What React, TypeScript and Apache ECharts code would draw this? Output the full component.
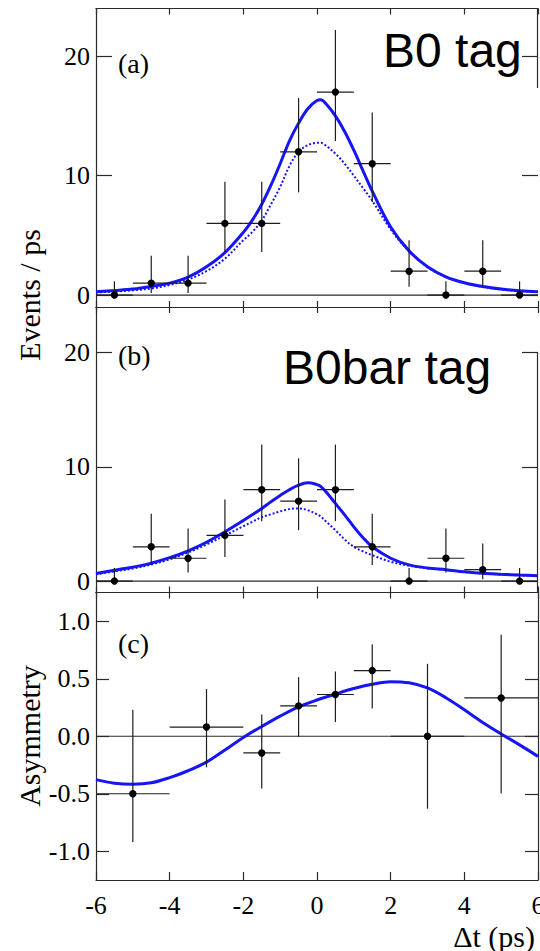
import React, { useEffect, useRef } from "react";
import * as echarts from "echarts";

// ---------- data ----------
const binX = [-5.5, -4.5, -3.5, -2.5, -1.5, -0.5, 0.5, 1.5, 2.5, 3.5, 4.5, 5.5];
const binHalf = [0.5, 0.5, 0.5, 0.5, 0.5, 0.5, 0.5, 0.5, 0.5, 0.5, 0.5, 0.5];

// (a) B0 tag
const aCounts = [0, 1, 1, 6, 6, 12, 17, 11, 2, 0, 2, 0];
const aErrLo = [0, 0.83, 0.83, 2.4, 2.4, 3.4, 4.1, 3.2, 1.3, 0, 1.3, 0];
const aErrHi = [1.15, 2.3, 2.3, 3.5, 3.5, 4.5, 5.2, 4.3, 2.6, 1.15, 2.6, 1.15];

// (b) B0bar tag
const bCounts = [0, 3, 2, 4, 8, 7, 8, 3, 0, 2, 1, 0];
const bErrLo = [0, 1.55, 1.25, 1.9, 2.75, 2.55, 2.75, 1.6, 0, 1.25, 0.83, 0];
const bErrHi = [1.15, 2.9, 2.6, 3.15, 3.95, 3.75, 3.95, 2.9, 1.15, 2.6, 2.3, 1.15];

// (c) asymmetry
const cX = [-5, -3, -1.5, -0.5, 0.5, 1.5, 3, 5];
const cHalf = [1, 1, 0.5, 0.5, 0.5, 0.5, 1, 1];
const cAsym = [-0.5, 0.08, -0.145, 0.264, 0.363, 0.571, 0, 0.333];
const cErrLo = [0.42, 0.35, 0.31, 0.27, 0.24, 0.33, 0.63, 0.83];
const cErrHi = [0.73, 0.33, 0.335, 0.25, 0.2, 0.23, 0.63, 0.55];

// fitted curves
const fitXab = [-6, -5.5, -5, -4.5, -4, -3.5, -3, -2.5, -2, -1.75, -1.5, -1.25, -1, -0.75, -0.5, -0.25, 0, 0.1, 0.25, 0.5, 0.75, 1, 1.25, 1.5, 2, 2.5, 3, 3.5, 4, 4.5, 5, 5.5, 6];
const aFitTotal = [0.28, 0.38, 0.5, 0.72, 1.0, 1.5, 2.37, 3.55, 5.25, 6.3, 7.6, 9.2, 11.0, 12.9, 14.4, 15.6, 16.3, 16.35, 16.0, 15.0, 13.7, 12.13, 10.4, 8.7, 5.7, 3.7, 2.37, 1.53, 1.03, 0.71, 0.5, 0.36, 0.28];
const aFitSignal = [0.22, 0.3, 0.4, 0.55, 0.85, 1.3, 2.0, 3.05, 4.6, 5.3, 6.25, 7.6, 9.06, 10.8, 12.0, 12.55, 12.75, 12.75, 12.5, 11.85, 11.0, 10.0, 8.95, 7.9, 5.5, 3.65, 2.35, 1.5, 1.0, 0.68, 0.47, 0.33, 0.24];
const bFitTotal = [0.67, 0.95, 1.22, 1.57, 2.05, 2.65, 3.4, 4.31, 5.3, 5.82, 6.36, 6.95, 7.5, 8.0, 8.4, 8.6, 8.45, 8.3, 7.8, 6.8, 5.8, 4.75, 3.8, 3.0, 2.0, 1.42, 1.15, 1.0, 0.82, 0.68, 0.6, 0.53, 0.47];
const bFitSignal = [0.6, 0.85, 1.1, 1.45, 1.9, 2.5, 3.2, 4.0, 4.8, 5.2, 5.6, 5.85, 6.1, 6.3, 6.36, 6.2, 5.85, 5.65, 5.2, 4.46, 3.65, 3.0, 2.6, 2.27, 1.69, 1.35, 1.12, 0.98, 0.8, 0.66, 0.57, 0.5, 0.45];
const fitXc = [-6, -5.5, -5, -4.5, -4, -3.5, -3, -2.5, -2, -1.5, -1, -0.5, 0, 0.5, 1, 1.5, 2, 2.5, 3, 3.5, 4, 4.5, 5, 5.5, 6];
const cFit = [-0.377, -0.408, -0.417, -0.405, -0.36, -0.3, -0.225, -0.12, -0.01, 0.085, 0.175, 0.255, 0.315, 0.367, 0.415, 0.452, 0.475, 0.465, 0.42, 0.335, 0.23, 0.12, 0.02, -0.075, -0.175];

const xTicks = [-6, -4, -2, 0, 2, 4, 6];
const countTicks = [0, 10, 20];
const asymTicks = [-1, -0.5, 0, 0.5, 1];

// ---------- styling ----------
const SERIF = "Liberation Serif, Times New Roman, serif";
const SANS = "Liberation Sans, Arial, sans-serif";
const FRAME = "#2a2a2a";
const BLUE = "#1515f5";
const L = 96;
const W = 442;
const grids = [
  { left: L, width: W, top: 8.5, height: 298.5 },
  { left: L, width: W, top: 307, height: 285.5 },
  { left: L, width: W, top: 592.5, height: 287.5 },
];
const yRanges = [
  [-1, 24],
  [-1, 24],
  [-1.25, 1.25],
];

const zip = (xs: number[], ys: number[]) => xs.map((x, i) => [x, ys[i]]);
const pts = (xs: number[], ys: number[], xe: number[], lo: number[], hi: number[]) =>
  xs.map((x, i) => [x, ys[i], xe[i], lo[i], hi[i]]);

function renderErr(params: any, api: any) {
  const x = api.value(0);
  const y = api.value(1);
  const xe = api.value(2);
  const lo = api.value(3);
  const hi = api.value(4);
  const c = api.coord([x, y]);
  const l = api.coord([x - xe, y]);
  const r = api.coord([x + xe, y]);
  const t = api.coord([x, y + hi]);
  const b = api.coord([x, y - lo]);
  const ls = { stroke: "#1e1e1e", lineWidth: 1.2 };
  return {
    type: "group",
    children: [
      { type: "line", shape: { x1: l[0], y1: l[1], x2: r[0], y2: r[1] }, style: ls },
      { type: "line", shape: { x1: t[0], y1: t[1], x2: b[0], y2: b[1] }, style: ls },
      { type: "circle", shape: { cx: c[0], cy: c[1], r: 3.7 }, style: { fill: "#000" } },
    ],
  };
}

function buildOption() {
  const xAxis: any[] = [];
  const yAxis: any[] = [];
  grids.forEach((_, i) => {
    const last = i === 2;
    xAxis.push({
      gridIndex: i,
      type: "value",
      min: -6,
      max: 6,
      interval: 2,
      position: "bottom",
      axisLine: { show: true, onZero: false, lineStyle: { color: FRAME, width: 1.2 } },
      axisTick: { show: true, inside: true, length: last ? 8 : 6, lineStyle: { color: FRAME, width: 1.2 } },
      axisLabel: {
        show: last,
        fontFamily: SERIF,
        fontSize: 26,
        color: "#000",
        margin: 12,
        customValues: xTicks,
        formatter: (v: number) => String(v),
      },
      splitLine: { show: false },
    });
    xAxis.push({
      gridIndex: i,
      type: "value",
      min: -6,
      max: 6,
      interval: 2,
      position: "top",
      axisLine: { show: true, onZero: false, lineStyle: { color: FRAME, width: 1.2 } },
      axisTick: { show: true, inside: true, length: 6, lineStyle: { color: FRAME, width: 1.2 } },
      axisLabel: { show: false },
      splitLine: { show: false },
    });
    const ticks = last ? asymTicks : countTicks;
    const tlen = last ? 13 : 16;
    yAxis.push({
      gridIndex: i,
      type: "value",
      min: yRanges[i][0],
      max: yRanges[i][1],
      position: "left",
      axisLine: { show: true, onZero: false, lineStyle: { color: FRAME, width: 1.2 } },
      axisTick: { show: true, inside: true, length: tlen, customValues: ticks, lineStyle: { color: FRAME, width: 1.2 } },
      axisLabel: {
        show: true,
        customValues: ticks,
        fontFamily: SERIF,
        fontSize: 26,
        color: "#000",
        margin: 6,
        formatter: (v: number) => (last ? v.toFixed(1) : String(v)),
      },
      splitLine: { show: false },
    });
    yAxis.push({
      gridIndex: i,
      type: "value",
      min: yRanges[i][0],
      max: yRanges[i][1],
      position: "right",
      axisLine: { show: last, onZero: false, lineStyle: { color: FRAME, width: 1.2 } },
      axisTick: { show: true, inside: true, length: tlen, customValues: ticks, lineStyle: { color: FRAME, width: 1.2 } },
      axisLabel: { show: false },
      splitLine: { show: false },
    });
  });

  const zeroLine = (i: number) => ({
    type: "line",
    xAxisIndex: 2 * i,
    yAxisIndex: 2 * i,
    data: [
      [-6, 0],
      [6, 0],
    ],
    symbol: "none",
    lineStyle: { color: FRAME, width: 1.2 },
    z: 1,
    silent: true,
  });
  const curve = (i: number, xs: number[], ys: number[], dotted: boolean) => ({
    type: "line",
    xAxisIndex: 2 * i,
    yAxisIndex: 2 * i,
    data: zip(xs, ys),
    smooth: 0.35,
    symbol: "none",
    lineStyle: dotted ? { color: BLUE, width: 2, type: [2, 2] } : { color: BLUE, width: 3 },
    z: dotted ? 2 : 3,
    silent: true,
  });
  const errs = (i: number, data: number[][]) => ({
    type: "custom",
    xAxisIndex: 2 * i,
    yAxisIndex: 2 * i,
    data,
    encode: { x: 0, y: 1 },
    renderItem: renderErr,
    z: 5,
    silent: true,
  });

  const series: any[] = [
    zeroLine(0),
    curve(0, fitXab, aFitSignal, true),
    curve(0, fitXab, aFitTotal, false),
    errs(0, pts(binX, aCounts, binHalf, aErrLo, aErrHi)),
    zeroLine(1),
    curve(1, fitXab, bFitSignal, true),
    curve(1, fitXab, bFitTotal, false),
    errs(1, pts(binX, bCounts, binHalf, bErrLo, bErrHi)),
    zeroLine(2),
    curve(2, fitXc, cFit, false),
    errs(2, pts(cX, cAsym, cHalf, cErrLo, cErrHi)),
  ];

  const txt = (text: string, x: number, y: number, font: string, size: number, align = "left") => ({
    type: "text",
    x,
    y,
    z: 100,
    style: {
      text,
      fontFamily: font,
      fontSize: size,
      fill: "#000",
      textAlign: align,
      align,
      textVerticalAlign: "middle",
      verticalAlign: "middle",
    },
  });
  const vline = (x: number, y1: number, y2: number) => ({
    type: "line",
    shape: { x1: x, y1, x2: x, y2 },
    style: { stroke: FRAME, lineWidth: 1.2 },
    z: 100,
  });

  const graphic: any[] = [
    txt("(a)", 118, 63, SERIF, 28),
    txt("(b)", 118, 355, SERIF, 28),
    txt("(c)", 118, 643, SERIF, 28),
    txt("B0 tag", 383, 50, SANS, 48),
    txt("B0bar tag", 283, 367, SANS, 48),
    { ...txt("Events / ps", 29, 295, SERIF, 30, "center"), rotation: Math.PI / 2 },
    { ...txt("Asymmetry", 29, 736, SERIF, 30, "center"), rotation: Math.PI / 2 },
    txt("Δt (ps)", 535, 936, SERIF, 30, "right"),
    vline(537.5, 8.5, 88),
    vline(537.5, 352, 592.5),
  ];

  return {
    animation: false,
    backgroundColor: "#fff",
    grid: grids.map((g) => ({ ...g, containLabel: false, outerBoundsMode: "none" })),
    xAxis,
    yAxis,
    series,
    graphic,
  };
}

export default function App() {
  const ref = useRef<HTMLDivElement>(null);
  useEffect(() => {
    if (!ref.current) return;
    const chart = echarts.init(ref.current, null, { renderer: "svg" });
    chart.setOption(buildOption() as any);
    return () => chart.dispose();
  }, []);
  return (
    <div
      ref={ref}
      style={{ position: "fixed", left: 0, top: 0, width: 540, height: 951, background: "#fff" }}
    />
  );
}
